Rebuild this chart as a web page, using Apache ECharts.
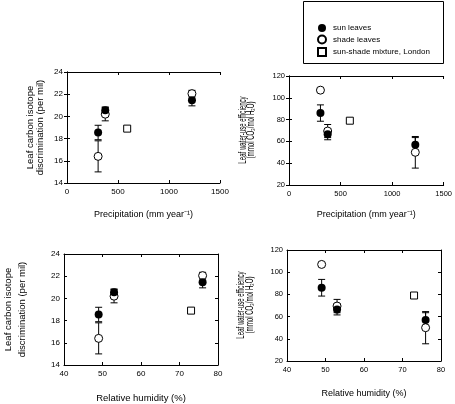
<!DOCTYPE html>
<html>
<head>
<meta charset="utf-8">
<script src="https://cdn.jsdelivr.net/npm/echarts@6/dist/echarts.min.js"></script>
<style>html,body{margin:0;padding:0;background:#fff}#c{width:455px;height:404px}</style>
</head>
<body>
<div id="c"></div>
<script>
// ---- data ----
const precip = [305, 375, 1225];
const humidity = [49, 53, 76];
const mixPrecip = [590];
const mixHumidity = [73];
const deltaSun = [18.55, 20.55, 21.45];
const deltaSunErr = [0.65, 0.3, 0.5];
const deltaShade = [16.4, 20.2, 22.05];
const deltaShadeErr = [1.4, 0.6, 0.3];
const deltaMix = [18.9];
const wueSun = [86, 66.5, 57];
const wueSunErr = [7.5, 5, 6.5];
const wueShade = [107, 69.5, 50];
const wueShadeErr = [1.5, 6, 14.5];
const wueMix = [79];
const precipTicks = [0, 1500, 500];
const humidityTicks = [40, 80, 10];
const deltaTicks = [14, 24, 2];
const wueTicks = [20, 120, 20];
const legendNames = ['sun leaves', 'shade leaves', 'sun-shade mixture, London'];
const wueName = 'Leaf water-use efficiency\n(mmol CO\u2082/mol H\u2082O)';

const FONT = "'Liberation Sans', Arial, sans-serif";
const chart = echarts.init(document.getElementById('c'));

const panels = [
  {grid:{left:67, top:72, width:153, height:111}, xs:precip, xm:mixPrecip, xt:precipTicks,
   sun:deltaSun, sunE:deltaSunErr, sh:deltaShade, shE:deltaShadeErr, mix:deltaMix, yt:deltaTicks,
   xname:'Precipitation (mm year\u207B\u00B9)', yname:'Leaf carbon isotope\ndiscrimination (per mil)',
   xgap:27, ygap:22, xfs:9, yfs:9.5, ylh:10, tfs:8},
  {grid:{left:289, top:76, width:161, height:109}, xs:precip, xm:mixPrecip, xt:precipTicks,
   sun:wueSun, sunE:wueSunErr, sh:wueShade, shE:wueShadeErr, mix:wueMix, yt:wueTicks,
   xname:'Precipitation (mm year\u207B\u00B9)', yname:'',
   xgap:25, ygap:30, xfs:9, yfs:6.5, ylh:8, tfs:7.5},
  {grid:{left:63, top:254, width:155, height:112}, xs:humidity, xm:mixHumidity, xt:humidityTicks,
   sun:deltaSun, sunE:deltaSunErr, sh:deltaShade, shE:deltaShadeErr, mix:deltaMix, yt:deltaTicks,
   xname:'Relative humidity (%)', yname:'Leaf carbon isotope\ndiscrimination (per mil)',
   xgap:28, ygap:35, xfs:9.5, yfs:9.5, ylh:14, tfs:8},
  {grid:{left:287, top:250, width:154, height:111}, xs:humidity, xm:mixHumidity, xt:humidityTicks,
   sun:wueSun, sunE:wueSunErr, sh:wueShade, shE:wueShadeErr, mix:wueMix, yt:wueTicks,
   xname:'Relative humidity (%)', yname:'',
   xgap:28, ygap:30, xfs:9, yfs:6.5, ylh:8, tfs:7.5}
];

const grid = [], xAxis = [], yAxis = [], series = [];
const line = {show:true, lineStyle:{color:'#000', width:1}};
const tick = {show:true, inside:true, length:3, lineStyle:{color:'#000'}};
const fmt = v => String(v);

function errItem(params, api) {
  const x = api.value(0), y = api.value(1), e = api.value(2);
  const t = api.coord([x, y + e]), b = api.coord([x, y - e]);
  const w = 3.5, st = {stroke:'#000', lineWidth:1};
  return {type:'group', children:[
    {type:'line', shape:{x1:t[0], y1:t[1], x2:b[0], y2:b[1]}, style:st},
    {type:'line', shape:{x1:t[0]-w, y1:t[1], x2:t[0]+w, y2:t[1]}, style:st},
    {type:'line', shape:{x1:b[0]-w, y1:b[1], x2:b[0]+w, y2:b[1]}, style:st}
  ]};
}

panels.forEach((p, i) => {
  grid.push(p.grid);
  const xi = xAxis.length, yi = yAxis.length;
  xAxis.push({type:'value', gridIndex:i, position:'bottom', min:p.xt[0], max:p.xt[1], interval:p.xt[2],
    axisLine:line, axisTick:tick, splitLine:{show:false},
    axisLabel:{color:'#000', fontSize:p.tfs, fontFamily:FONT, margin:5, formatter:fmt},
    name:p.xname, nameLocation:'middle', nameGap:p.xgap,
    nameTextStyle:{color:'#000', fontSize:p.xfs, fontFamily:FONT}});
  xAxis.push({type:'value', gridIndex:i, position:'top', min:p.xt[0], max:p.xt[1], interval:p.xt[2],
    axisLine:line, axisTick:tick, axisLabel:{show:false}, splitLine:{show:false}});
  yAxis.push({type:'value', gridIndex:i, position:'left', min:p.yt[0], max:p.yt[1], interval:p.yt[2],
    axisLine:line, axisTick:tick, splitLine:{show:false},
    axisLabel:{color:'#000', fontSize:p.tfs, fontFamily:FONT, margin:4, formatter:fmt},
    name:p.yname, nameLocation:'middle', nameGap:p.ygap, nameRotate:90,
    nameTextStyle:{color:'#000', fontSize:p.yfs, fontFamily:FONT, lineHeight:p.ylh, align:'center'}});
  yAxis.push({type:'value', gridIndex:i, position:'right', min:p.yt[0], max:p.yt[1], interval:p.yt[2],
    axisLine:line, axisTick:tick, axisLabel:{show:false}, splitLine:{show:false}});

  const sunErr = p.xs.map((x, k) => [x, p.sun[k], p.sunE[k]]);
  const shErr = p.xs.map((x, k) => [x, p.sh[k], p.shE[k]]);
  series.push({type:'custom', xAxisIndex:xi, yAxisIndex:yi, renderItem:errItem,
    data:shErr, encode:{x:0, y:1}, z:1, silent:true});
  series.push({type:'custom', xAxisIndex:xi, yAxisIndex:yi, renderItem:errItem,
    data:sunErr, encode:{x:0, y:1}, z:1, silent:true});
  series.push({name:legendNames[1], type:'scatter', xAxisIndex:xi, yAxisIndex:yi, z:3,
    symbol:'circle', symbolSize:8,
    itemStyle:{color:'#fff', borderColor:'#000', borderWidth:1, opacity:1},
    data:p.xs.map((x, k) => [x, p.sh[k]])});
  series.push({name:legendNames[0], type:'scatter', xAxisIndex:xi, yAxisIndex:yi, z:4,
    symbol:'circle', symbolSize:8,
    itemStyle:{color:'#000', borderColor:'#000', borderWidth:0, opacity:1},
    data:p.xs.map((x, k) => [x, p.sun[k]])});
  series.push({name:legendNames[2], type:'scatter', xAxisIndex:xi, yAxisIndex:yi, z:3,
    symbol:'rect', symbolSize:7,
    itemStyle:{color:'#fff', borderColor:'#000', borderWidth:1, opacity:1},
    data:p.xm.map((x, k) => [x, p.mix[k]])});
});

// condensed rotated y-axis titles of the right-hand panels
function condensedTitle(cx, cy) {
  return {type:'text', x:cx, y:cy, rotation:Math.PI/2, scaleX:0.58, scaleY:1, z:10,
    style:{text:wueName, fontSize:10.5, fontFamily:FONT, fill:'#000',
      align:'center', verticalAlign:'middle', lineHeight:8.5}};
}

chart.setOption({
  animation:false,
  backgroundColor:'#fff',
  grid, xAxis, yAxis, series,
  legend:{data:legendNames,
    orient:'vertical', left:317, top:24, padding:0, itemWidth:8, itemHeight:8, itemGap:2.5,
    textStyle:{color:'#000', fontSize:8, fontFamily:FONT, padding:[0,0,0,2]},
    selectedMode:false},
  graphic:[
    {type:'rect', shape:{x:303.5, y:1.5, width:140, height:62},
      style:{fill:'none', stroke:'#000', lineWidth:1}, z:0},
    condensedTitle(247, 130),
    condensedTitle(245.5, 305)
  ]
});
</script>
</body>
</html>
